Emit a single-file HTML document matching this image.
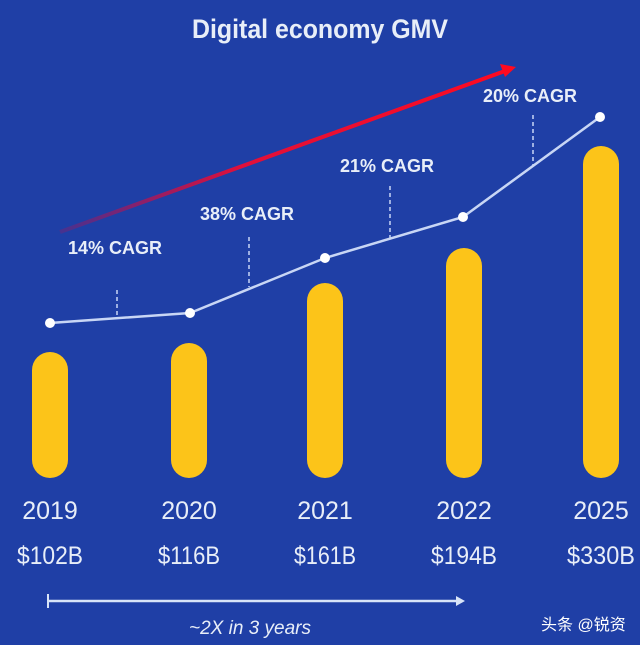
<!DOCTYPE html><html><head><meta charset="utf-8"><style>
body{margin:0;width:640px;height:645px;background:#1f3fa6;overflow:hidden}
svg{display:block}
text{font-family:"Liberation Sans","Noto Sans CJK SC",sans-serif;fill:#e8eef8}
</style></head><body>
<svg width="640" height="645" viewBox="0 0 640 645">
<defs><linearGradient id="r" x1="60" y1="232" x2="513" y2="68" gradientUnits="userSpaceOnUse"><stop offset="0" stop-color="#e0003a" stop-opacity="0.2"/><stop offset="0.4" stop-color="#e0103a"/><stop offset="1" stop-color="#ff0a20"/></linearGradient></defs>
<rect width="640" height="645" fill="#1f3fa6"/>
<text x="320" y="38" font-size="27" font-weight="bold" text-anchor="middle" textLength="256" lengthAdjust="spacingAndGlyphs">Digital economy GMV</text>
<line x1="60" y1="232" x2="505" y2="71" stroke="url(#r)" stroke-width="4"/>
<polygon points="516,67 500,64 505,77" fill="#ff0a20"/>
<g fill="#fcc419">
<rect x="32" y="352" width="36" height="126" rx="18"/>
<rect x="171" y="343" width="36" height="135" rx="18"/>
<rect x="307" y="283" width="36" height="195" rx="18"/>
<rect x="446" y="248" width="36" height="230" rx="18"/>
<rect x="583" y="146" width="36" height="332" rx="18"/>
</g>
<g stroke="#c8d6f5" stroke-width="1.5" stroke-dasharray="4,3">
<line x1="117" y1="290" x2="117" y2="318"/><line x1="249" y1="237" x2="249" y2="287"/>
<line x1="390" y1="186" x2="390" y2="238"/><line x1="533" y1="115" x2="533" y2="165"/>
</g>
<polyline points="50,323 190,313 325,258 463,217 600,117" fill="none" stroke="#c8d6f5" stroke-width="2.5"/>
<g fill="#fff"><circle cx="50" cy="323" r="5"/><circle cx="190" cy="313" r="5"/><circle cx="325" cy="258" r="5"/><circle cx="463" cy="217" r="5"/><circle cx="600" cy="117" r="5"/></g>
<g font-size="18" font-weight="bold">
<text x="68" y="254">14% CAGR</text><text x="200" y="220">38% CAGR</text>
<text x="340" y="172">21% CAGR</text><text x="483" y="102">20% CAGR</text>
</g>
<g font-size="25" text-anchor="middle">
<text x="50" y="519">2019</text><text x="189" y="519">2020</text><text x="325" y="519">2021</text><text x="464" y="519">2022</text><text x="601" y="519">2025</text>
<text x="50" y="564" textLength="66" lengthAdjust="spacingAndGlyphs">$102B</text><text x="189" y="564" textLength="62" lengthAdjust="spacingAndGlyphs">$116B</text><text x="325" y="564" textLength="62" lengthAdjust="spacingAndGlyphs">$161B</text><text x="464" y="564" textLength="66" lengthAdjust="spacingAndGlyphs">$194B</text><text x="601" y="564" textLength="68" lengthAdjust="spacingAndGlyphs">$330B</text>
</g>
<line x1="48" y1="601" x2="458" y2="601" stroke="#d8e4f8" stroke-width="2.5"/>
<line x1="48" y1="594" x2="48" y2="608" stroke="#d8e4f8" stroke-width="2"/>
<polygon points="465,601 456,596 456,606" fill="#d8e4f8"/>
<text x="250" y="634" font-size="19" font-style="italic" text-anchor="middle">~2X in 3 years</text>
<text x="541" y="630" font-size="16" style="fill:#fff">头条 @锐资</text>
</svg></body></html>
